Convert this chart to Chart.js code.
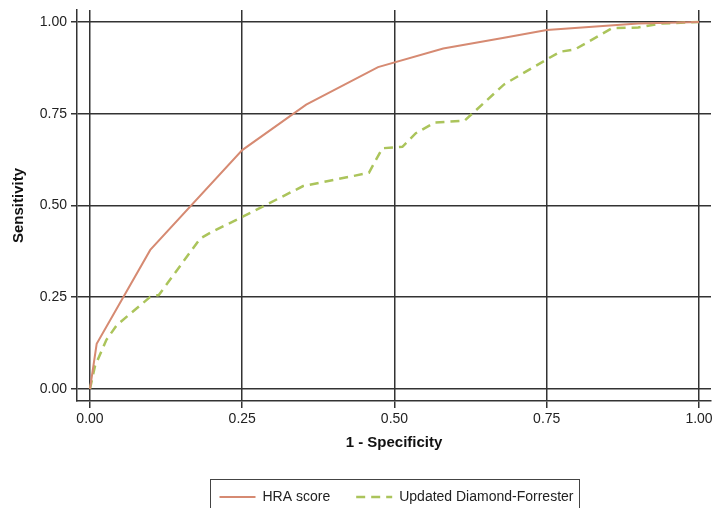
<!DOCTYPE html>
<html>
<head>
<meta charset="utf-8">
<script src="https://cdn.jsdelivr.net/npm/chart.js@4/dist/chart.umd.min.js"></script>
<style>
  html, body { margin: 0; padding: 0; background: #fff; }
  #wrap { width: 713px; height: 508px; position: relative; }
</style>
</head>
<body>
<div id="wrap"><canvas id="roc"></canvas></div>
<script>
// Data
const tickValues = [0, 0.25, 0.5, 0.75, 1];

const hraFpr = [0, 0.011, 0.099, 0.25, 0.355, 0.473, 0.58, 0.68, 0.75, 0.9, 1];
const hraTpr = [0, 0.123, 0.379, 0.651, 0.775, 0.877, 0.928, 0.957, 0.978, 0.996, 1];

const udfFpr = [0, 0.008, 0.027, 0.044, 0.099, 0.113, 0.181, 0.198, 0.25, 0.35, 0.458, 0.48,
                0.513, 0.535, 0.566, 0.615, 0.68, 0.752, 0.772, 0.796, 0.857, 0.9, 0.939, 1];
const udfTpr = [0, 0.061, 0.134, 0.174, 0.251, 0.256, 0.41, 0.426, 0.469, 0.553, 0.589, 0.656,
                0.66, 0.697, 0.726, 0.731, 0.83, 0.9, 0.919, 0.925, 0.983, 0.985, 0.996, 1];

const seriesNames = ['HRA score', 'Updated Diamond-Forrester'];

const FONT = '"Liberation Sans", Arial, Helvetica, sans-serif';
const GRID = '#333333';
const legendShift = 41;

const toPoints = (xs, ys) => xs.map((x, i) => ({ x: x, y: ys[i] }));

// draws the frame round the legend and moves it right like the original
const legendFrame = {
    id: 'legendFrame',
    afterLayout(chart) {
        const lg = chart.legend;
        lg.left += legendShift;
        lg.right += legendShift;
    },
    afterDraw(chart) {
        const lg = chart.legend;
        const opts = lg.options.labels;
        const ctx = chart.ctx;
        const fs = opts.font.size;
        const P = opts.padding;
        const bw = opts.pointStyleWidth;
        ctx.save();
        ctx.font = Chart.helpers.toFont(opts.font).string;
        const widths = lg.legendItems.map(it => bw + fs / 2 + ctx.measureText(it.text).width);
        const lineW = widths.reduce((s, w) => s + w + P, 0);
        const start = (lg.left + P + lg.right - lineW) / 2;
        const end = start + lineW - P;
        ctx.strokeStyle = '#444';
        ctx.lineWidth = 1;
        ctx.strokeRect(Math.round(start - 10) + 0.5, Math.round(lg.top + P - 11.5) + 0.5, Math.round(end - start + 15), 60);
        ctx.restore();
    }
};

function axis(titleText, min, max) {
    return {
        type: 'linear',
        min: min,
        max: max,
        afterBuildTicks: scale => { scale.ticks = tickValues.map(v => ({ value: v })); },
        ticks: {
            color: '#222',
            font: { family: FONT, size: 14 },
            padding: 3,
            callback: v => Number(v).toFixed(2)
        },
        grid: { color: GRID, lineWidth: 1.5, drawTicks: true },
        border: { display: true, color: GRID, width: 1.5 },
        title: {
            display: true,
            text: titleText,
            color: '#111',
            font: { family: FONT, size: 15, weight: 'bold' }
        }
    };
}

const xScale = axis('1 - Specificity', -0.0213, 1.0197);
xScale.grid.tickLength = 7;
xScale.title.padding = { top: 0, bottom: 12 };
xScale.afterFit = s => {
    s.height = 63;
    s.paddingLeft = 0;
    s.paddingRight = 0;
};

const yScale = axis('Sensitivity', -0.0327, 1.0327);
yScale.grid.tickLength = 6;
yScale.ticks.padding = 4;
yScale.title.padding = { top: 9.5, bottom: 0 };
yScale.afterFit = s => {
    s.width = 77;
    s.paddingTop = 0;
    s.paddingBottom = 0;
};

const ctx = document.getElementById('roc').getContext('2d');
new Chart(ctx, {
    type: 'line',
    data: {
        datasets: [
            {
                label: seriesNames[0],
                data: toPoints(hraFpr, hraTpr),
                borderColor: '#d68a72',
                backgroundColor: '#d68a72',
                borderWidth: 2,
                pointRadius: 0,
                tension: 0,
                fill: false
            },
            {
                label: seriesNames[1],
                data: toPoints(udfFpr, udfTpr),
                borderColor: '#abc45b',
                backgroundColor: '#abc45b',
                borderWidth: 2.5,
                borderDash: [9, 6],
                pointRadius: 0,
                tension: 0,
                fill: false
            }
        ]
    },
    options: {
        responsive: true,
        maintainAspectRatio: false,
        animation: false,
        layout: { padding: { top: 10, right: 2, left: 0, bottom: -6 } },
        scales: { x: xScale, y: yScale },
        plugins: {
            tooltip: { enabled: false },
            legend: {
                position: 'bottom',
                labels: {
                    usePointStyle: true,
                    pointStyle: 'line',
                    pointStyleWidth: 36,
                    padding: 26,
                    color: '#222',
                    font: { family: FONT, size: 14 },
                    generateLabels: chart => chart.data.datasets.map((ds, i) => ({
                        text: ds.label,
                        datasetIndex: i,
                        strokeStyle: ds.borderColor,
                        fillStyle: ds.borderColor,
                        fontColor: '#222',
                        lineWidth: ds.borderWidth,
                        lineDash: ds.borderDash || [],
                        pointStyle: 'line',
                        hidden: false
                    }))
                }
            }
        }
    },
    plugins: [legendFrame]
});
</script>
</body>
</html>
